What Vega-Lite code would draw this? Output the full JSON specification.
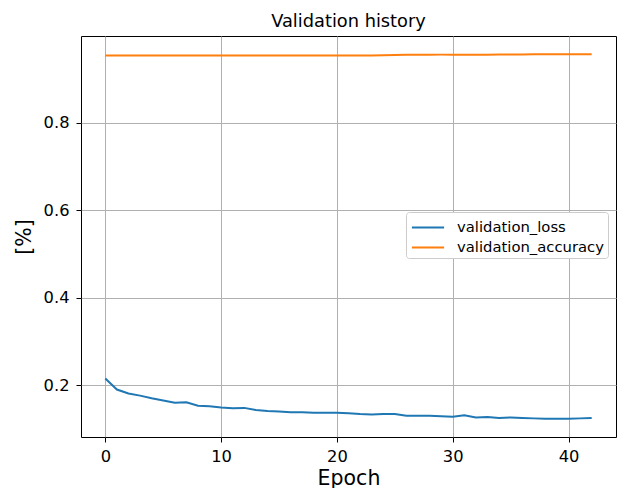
{
  "$schema": "https://vega.github.io/schema/vega-lite/v6.json",
  "width": 535,
  "height": 401,
  "autosize": {"type": "none"},
  "padding": {"left": 81, "top": 36, "right": 1, "bottom": 51},
  "background": "white",
  "title": {"text": "Validation history", "fontSize": 17.8, "fontWeight": "normal", "font": "DejaVu Sans", "color": "black", "offset": 5},
  "config": {
    "view": {"stroke": "black", "strokeWidth": 1},
    "axis": {"labelFont": "DejaVu Sans", "titleFont": "DejaVu Sans", "labelFontSize": 16.3, "titleFontSize": 20.5, "titleFontWeight": "normal", "labelColor": "black", "titleColor": "black", "tickColor": "black", "tickSize": 5, "domain": false, "gridColor": "#b0b0b0", "gridWidth": 1, "labelPadding": 6}
  },
  "data": {"values": [
    {"epoch":0,"series":"validation_loss","value":0.215},
    {"epoch":1,"series":"validation_loss","value":0.190},
    {"epoch":2,"series":"validation_loss","value":0.181},
    {"epoch":3,"series":"validation_loss","value":0.176},
    {"epoch":4,"series":"validation_loss","value":0.170},
    {"epoch":5,"series":"validation_loss","value":0.165},
    {"epoch":6,"series":"validation_loss","value":0.160},
    {"epoch":7,"series":"validation_loss","value":0.161},
    {"epoch":8,"series":"validation_loss","value":0.153},
    {"epoch":9,"series":"validation_loss","value":0.152},
    {"epoch":10,"series":"validation_loss","value":0.149},
    {"epoch":11,"series":"validation_loss","value":0.147},
    {"epoch":12,"series":"validation_loss","value":0.148},
    {"epoch":13,"series":"validation_loss","value":0.143},
    {"epoch":14,"series":"validation_loss","value":0.141},
    {"epoch":15,"series":"validation_loss","value":0.140},
    {"epoch":16,"series":"validation_loss","value":0.138},
    {"epoch":17,"series":"validation_loss","value":0.138},
    {"epoch":18,"series":"validation_loss","value":0.137},
    {"epoch":19,"series":"validation_loss","value":0.137},
    {"epoch":20,"series":"validation_loss","value":0.137},
    {"epoch":21,"series":"validation_loss","value":0.136},
    {"epoch":22,"series":"validation_loss","value":0.134},
    {"epoch":23,"series":"validation_loss","value":0.133},
    {"epoch":24,"series":"validation_loss","value":0.134},
    {"epoch":25,"series":"validation_loss","value":0.134},
    {"epoch":26,"series":"validation_loss","value":0.130},
    {"epoch":27,"series":"validation_loss","value":0.130},
    {"epoch":28,"series":"validation_loss","value":0.130},
    {"epoch":29,"series":"validation_loss","value":0.129},
    {"epoch":30,"series":"validation_loss","value":0.128},
    {"epoch":31,"series":"validation_loss","value":0.131},
    {"epoch":32,"series":"validation_loss","value":0.126},
    {"epoch":33,"series":"validation_loss","value":0.127},
    {"epoch":34,"series":"validation_loss","value":0.125},
    {"epoch":35,"series":"validation_loss","value":0.126},
    {"epoch":36,"series":"validation_loss","value":0.125},
    {"epoch":37,"series":"validation_loss","value":0.124},
    {"epoch":38,"series":"validation_loss","value":0.123},
    {"epoch":39,"series":"validation_loss","value":0.123},
    {"epoch":40,"series":"validation_loss","value":0.123},
    {"epoch":41,"series":"validation_loss","value":0.124},
    {"epoch":42,"series":"validation_loss","value":0.125},
    {"epoch":0,"series":"validation_accuracy","value":0.954},
    {"epoch":1,"series":"validation_accuracy","value":0.954},
    {"epoch":2,"series":"validation_accuracy","value":0.954},
    {"epoch":3,"series":"validation_accuracy","value":0.954},
    {"epoch":4,"series":"validation_accuracy","value":0.954},
    {"epoch":5,"series":"validation_accuracy","value":0.954},
    {"epoch":6,"series":"validation_accuracy","value":0.954},
    {"epoch":7,"series":"validation_accuracy","value":0.954},
    {"epoch":8,"series":"validation_accuracy","value":0.954},
    {"epoch":9,"series":"validation_accuracy","value":0.954},
    {"epoch":10,"series":"validation_accuracy","value":0.954},
    {"epoch":11,"series":"validation_accuracy","value":0.954},
    {"epoch":12,"series":"validation_accuracy","value":0.954},
    {"epoch":13,"series":"validation_accuracy","value":0.954},
    {"epoch":14,"series":"validation_accuracy","value":0.954},
    {"epoch":15,"series":"validation_accuracy","value":0.954},
    {"epoch":16,"series":"validation_accuracy","value":0.954},
    {"epoch":17,"series":"validation_accuracy","value":0.954},
    {"epoch":18,"series":"validation_accuracy","value":0.954},
    {"epoch":19,"series":"validation_accuracy","value":0.954},
    {"epoch":20,"series":"validation_accuracy","value":0.954},
    {"epoch":21,"series":"validation_accuracy","value":0.954},
    {"epoch":22,"series":"validation_accuracy","value":0.954},
    {"epoch":23,"series":"validation_accuracy","value":0.954},
    {"epoch":24,"series":"validation_accuracy","value":0.9545},
    {"epoch":25,"series":"validation_accuracy","value":0.955},
    {"epoch":26,"series":"validation_accuracy","value":0.9555},
    {"epoch":27,"series":"validation_accuracy","value":0.9555},
    {"epoch":28,"series":"validation_accuracy","value":0.9555},
    {"epoch":29,"series":"validation_accuracy","value":0.956},
    {"epoch":30,"series":"validation_accuracy","value":0.956},
    {"epoch":31,"series":"validation_accuracy","value":0.956},
    {"epoch":32,"series":"validation_accuracy","value":0.956},
    {"epoch":33,"series":"validation_accuracy","value":0.956},
    {"epoch":34,"series":"validation_accuracy","value":0.9565},
    {"epoch":35,"series":"validation_accuracy","value":0.9565},
    {"epoch":36,"series":"validation_accuracy","value":0.9565},
    {"epoch":37,"series":"validation_accuracy","value":0.957},
    {"epoch":38,"series":"validation_accuracy","value":0.957},
    {"epoch":39,"series":"validation_accuracy","value":0.957},
    {"epoch":40,"series":"validation_accuracy","value":0.957},
    {"epoch":41,"series":"validation_accuracy","value":0.957},
    {"epoch":42,"series":"validation_accuracy","value":0.957}
  ]},
  "mark": {"type": "line", "strokeWidth": 2},
  "encoding": {
    "x": {"field": "epoch", "type": "quantitative", "title": "Epoch",
      "scale": {"domain": [-2.1, 44.1], "nice": false, "zero": false},
      "axis": {"values": [0, 10, 20, 30, 40], "titlePadding": 4}},
    "y": {"field": "value", "type": "quantitative", "title": "[%]",
      "scale": {"domain": [0.0814, 0.9986], "nice": false, "zero": false},
      "axis": {"values": [0.2, 0.4, 0.6, 0.8], "format": ".1f", "titlePadding": 9, "labelPadding": 7}},
    "color": {"field": "series", "type": "nominal",
      "scale": {"domain": ["validation_loss", "validation_accuracy"], "range": ["#1f77b4", "#ff7f0e"]},
      "legend": {"title": null, "orient": "none", "legendX": 325, "legendY": 176,
        "symbolType": "M-1.4,0H1.4", "symbolSize": 529, "symbolStrokeWidth": 2, "symbolOffset": 6.5,
        "labelFont": "DejaVu Sans", "labelFontSize": 14.8, "labelColor": "black", "labelOffset": 16.5,
        "strokeColor": "#cccccc", "fillColor": "white", "cornerRadius": 3, "padding": 3, "rowPadding": 0}}
  }
}
